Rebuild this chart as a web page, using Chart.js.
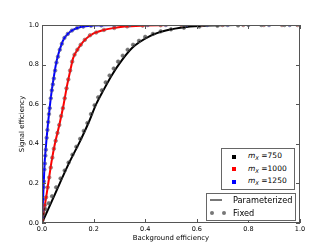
<!DOCTYPE html>
<html>
<head>
<meta charset="utf-8">
<script src="https://cdn.jsdelivr.net/npm/chart.js@4"></script>
<style>
  body { margin: 0; background: #fff; }
  #wrap { position: relative; width: 332px; height: 249px; }
  .box { position: absolute; box-sizing: border-box; border: 1px solid #666; background: #fff; }
  .row { position: absolute; height: 10px; line-height: 10px; white-space: nowrap; font-family: 'DejaVu Sans', sans-serif; color: #000; }
  .sq { position: absolute; width: 4px; height: 4px; }
  .dot { position: absolute; width: 4px; height: 4px; border-radius: 50%; background: #777; }
  sub { font-size: 70%; vertical-align: -2px; line-height: 0; }
</style>
</head>
<body>
<div id="wrap">
  <canvas id="roc"></canvas>
  <div class="box" style="left:221px;top:148px;width:74px;height:42px;">
    <div class="sq" style="left:10px;top:6px;background:#000"></div>
    <div class="row" style="left:26px;top:2px;font-size:7.5px;"><i>m</i><sub><i>X</i></sub> =750</div>
    <div class="sq" style="left:10px;top:18px;background:#f00"></div>
    <div class="row" style="left:26px;top:14.5px;font-size:7.5px;"><i>m</i><sub><i>X</i></sub> =1000</div>
    <div class="sq" style="left:10px;top:31px;background:#00f"></div>
    <div class="row" style="left:26px;top:27px;font-size:7.5px;"><i>m</i><sub><i>X</i></sub> =1250</div>
  </div>
  <div class="box" style="left:206px;top:193px;width:90px;height:28px;">
    <div style="position:absolute;left:3px;top:5px;width:12px;height:2px;background:#777"></div>
    <div class="row" style="left:26px;top:1px;font-size:8.2px;">Parameterized</div>
    <div class="dot" style="left:3px;top:17px;"></div>
    <div class="dot" style="left:15px;top:17px;"></div>
    <div class="row" style="left:26px;top:14px;font-size:8.2px;">Fixed</div>
  </div>
</div>
<script>
// parameterized curves (line)
var bkg750  = [0, 0.05, 0.1, 0.15, 0.18, 0.21, 0.24, 0.27, 0.3, 0.35, 0.42, 0.48, 0.56, 0.65, 0.75, 1.0];
var sig750  = [0, 0.145, 0.29, 0.42, 0.505, 0.6, 0.675, 0.745, 0.805, 0.885, 0.945, 0.972, 0.99, 0.997, 1.0, 1.0];
var bkg1000 = [0, 0.01, 0.022, 0.037, 0.05, 0.068, 0.084, 0.098, 0.113, 0.12, 0.135, 0.15, 0.17, 0.2, 0.24, 0.27, 0.32, 0.4, 0.5, 1.0];
var sig1000 = [0, 0.08, 0.18, 0.31, 0.4, 0.5, 0.6, 0.7, 0.79, 0.83, 0.87, 0.9, 0.93, 0.958, 0.975, 0.983, 0.992, 0.997, 1.0, 1.0];
var bkg1250 = [0, 0.002, 0.004, 0.006, 0.008, 0.010, 0.014, 0.018, 0.023, 0.028, 0.033, 0.039, 0.045, 0.051, 0.057, 0.065, 0.075, 0.085, 0.1, 0.12, 0.15, 0.2, 0.3, 1.0];
var sig1250 = [0, 0.06, 0.12, 0.18, 0.24, 0.3, 0.37, 0.43, 0.5, 0.56, 0.62, 0.68, 0.73, 0.78, 0.82, 0.86, 0.9, 0.93, 0.955, 0.975, 0.99, 0.997, 1.0, 1.0];

// fixed curves (markers)
var bkgFix750  = [0.004, 0.013, 0.026, 0.039, 0.055, 0.072, 0.088, 0.103, 0.118, 0.133, 0.148, 0.162, 0.176, 0.19, 0.204, 0.218, 0.232, 0.247, 0.262, 0.278, 0.295, 0.313, 0.332, 0.353, 0.376, 0.40, 0.43, 0.46, 0.50, 0.55, 0.61, 0.68, 0.76, 0.85, 0.94];
var sigFix750  = [0.045, 0.07, 0.10, 0.135, 0.18, 0.225, 0.265, 0.305, 0.345, 0.385, 0.425, 0.465, 0.505, 0.55, 0.595, 0.635, 0.67, 0.71, 0.745, 0.78, 0.815, 0.845, 0.875, 0.9, 0.92, 0.94, 0.955, 0.968, 0.978, 0.986, 0.992, 0.996, 0.998, 1.0, 1.0];
var bkgFix1000 = [0.002, 0.006, 0.011, 0.016, 0.022, 0.028, 0.034, 0.040, 0.046, 0.053, 0.060, 0.067, 0.074, 0.081, 0.088, 0.095, 0.102, 0.109, 0.117, 0.126, 0.137, 0.15, 0.166, 0.186, 0.21, 0.24, 0.28, 0.33, 0.39, 0.46, 0.54, 0.62, 0.7, 0.78, 0.86, 0.93, 0.99];
var sigFix1000 = [0.015, 0.05, 0.09, 0.13, 0.18, 0.23, 0.28, 0.33, 0.375, 0.415, 0.455, 0.495, 0.54, 0.58, 0.63, 0.68, 0.725, 0.77, 0.815, 0.85, 0.875, 0.9, 0.925, 0.948, 0.962, 0.975, 0.985, 0.993, 0.997, 0.999, 1, 1, 1, 1, 1, 1, 1];
var bkgFix1250 = [0.001, 0.002, 0.003, 0.004, 0.006, 0.007, 0.009, 0.011, 0.013, 0.015, 0.018, 0.021, 0.024, 0.027, 0.030, 0.034, 0.038, 0.042, 0.046, 0.051, 0.056, 0.062, 0.069, 0.077, 0.087, 0.1, 0.116, 0.136, 0.16, 0.19, 0.23, 0.28, 0.34, 0.41, 0.48, 0.56, 0.64, 0.72, 0.8, 0.88, 0.96];
var sigFix1250 = [0.03, 0.06, 0.09, 0.12, 0.18, 0.21, 0.27, 0.30, 0.34, 0.37, 0.43, 0.47, 0.51, 0.55, 0.58, 0.63, 0.67, 0.70, 0.73, 0.77, 0.81, 0.84, 0.875, 0.905, 0.935, 0.955, 0.972, 0.985, 0.992, 0.996, 0.998, 0.999, 1, 1, 1, 1, 1, 1, 1, 1, 1];

var tickValues = [0, 0.2, 0.4, 0.6, 0.8, 1.0];

function pts(xs, ys) {
    return xs.map(function(x, i) { return { x: x, y: ys[i] }; });
}

function lineSet(xs, ys, color) {
    return { data: pts(xs, ys), showLine: true, borderColor: color, borderWidth: 2, pointRadius: 0, cubicInterpolationMode: 'monotone', order: 1 };
}

function dotSet(xs, ys, fill) {
    return { data: pts(xs, ys), showLine: false, pointRadius: 1.8, pointBackgroundColor: fill, pointBorderColor: 'rgba(100,100,100,0.7)', pointBorderWidth: 0.8, order: 0 };
}

var insideTicks = {
    id: 'insideTicks',
    afterDraw: function(chart) {
        var ctx = chart.ctx, a = chart.chartArea, xs = chart.scales.x, ys = chart.scales.y;
        ctx.save();
        ctx.strokeStyle = '#555';
        ctx.lineWidth = 1;
        ctx.strokeRect(a.left + 0.5, a.top + 0.5, a.width - 1, a.height - 1);
        tickValues.forEach(function(v) {
            var px = Math.round(xs.getPixelForValue(v)) + 0.5;
            var py = Math.round(ys.getPixelForValue(v)) + 0.5;
            ctx.beginPath();
            ctx.moveTo(px, a.bottom); ctx.lineTo(px, a.bottom - 4);
            ctx.moveTo(px, a.top); ctx.lineTo(px, a.top + 4);
            ctx.moveTo(a.left, py); ctx.lineTo(a.left + 4, py);
            ctx.moveTo(a.right, py); ctx.lineTo(a.right - 4, py);
            ctx.stroke();
        });
        ctx.restore();
    }
};

Chart.defaults.font.family = "'DejaVu Sans', sans-serif";
Chart.defaults.color = '#000';

new Chart(document.getElementById('roc'), {
    type: 'scatter',
    data: {
        datasets: [
            dotSet(bkgFix750, sigFix750, 'rgba(0,0,0,0.55)'),
            dotSet(bkgFix1000, sigFix1000, 'rgba(255,0,0,0.6)'),
            dotSet(bkgFix1250, sigFix1250, 'rgba(0,0,255,0.6)'),
            lineSet(bkg750, sig750, '#000'),
            lineSet(bkg1000, sig1000, '#f00'),
            lineSet(bkg1250, sig1250, '#00f')
        ]
    },
    options: {
        responsive: true,
        maintainAspectRatio: false,
        animation: false,
        layout: { padding: { left: 0, top: 25, right: 32, bottom: 0 } },
        plugins: { legend: { display: false }, tooltip: { enabled: false } },
        scales: {
            x: {
                type: 'linear', min: 0, max: 1,
                afterFit: function(s) { s.height = 26; },
                afterBuildTicks: function(s) { s.ticks = tickValues.map(function(v) { return { value: v }; }); },
                ticks: { font: { size: 6.5 }, padding: 2, maxRotation: 0, callback: function(v) { return v.toFixed(1); } },
                grid: { display: false, drawTicks: false },
                border: { display: false },
                title: { display: true, text: 'Background efficiency', font: { size: 6.9 }, padding: { top: 0, bottom: 7 } }
            },
            y: {
                type: 'linear', min: 0, max: 1,
                afterFit: function(s) { s.width = 42; },
                afterBuildTicks: function(s) { s.ticks = tickValues.map(function(v) { return { value: v }; }); },
                ticks: { font: { size: 6.5 }, padding: 3, callback: function(v) { return v.toFixed(1); } },
                grid: { display: false, drawTicks: false },
                border: { display: false },
                title: { display: true, text: 'Signal efficiency', font: { size: 6.9 }, padding: { top: 18, bottom: 0 } }
            }
        }
    },
    plugins: [insideTicks]
});
</script>
</body>
</html>
